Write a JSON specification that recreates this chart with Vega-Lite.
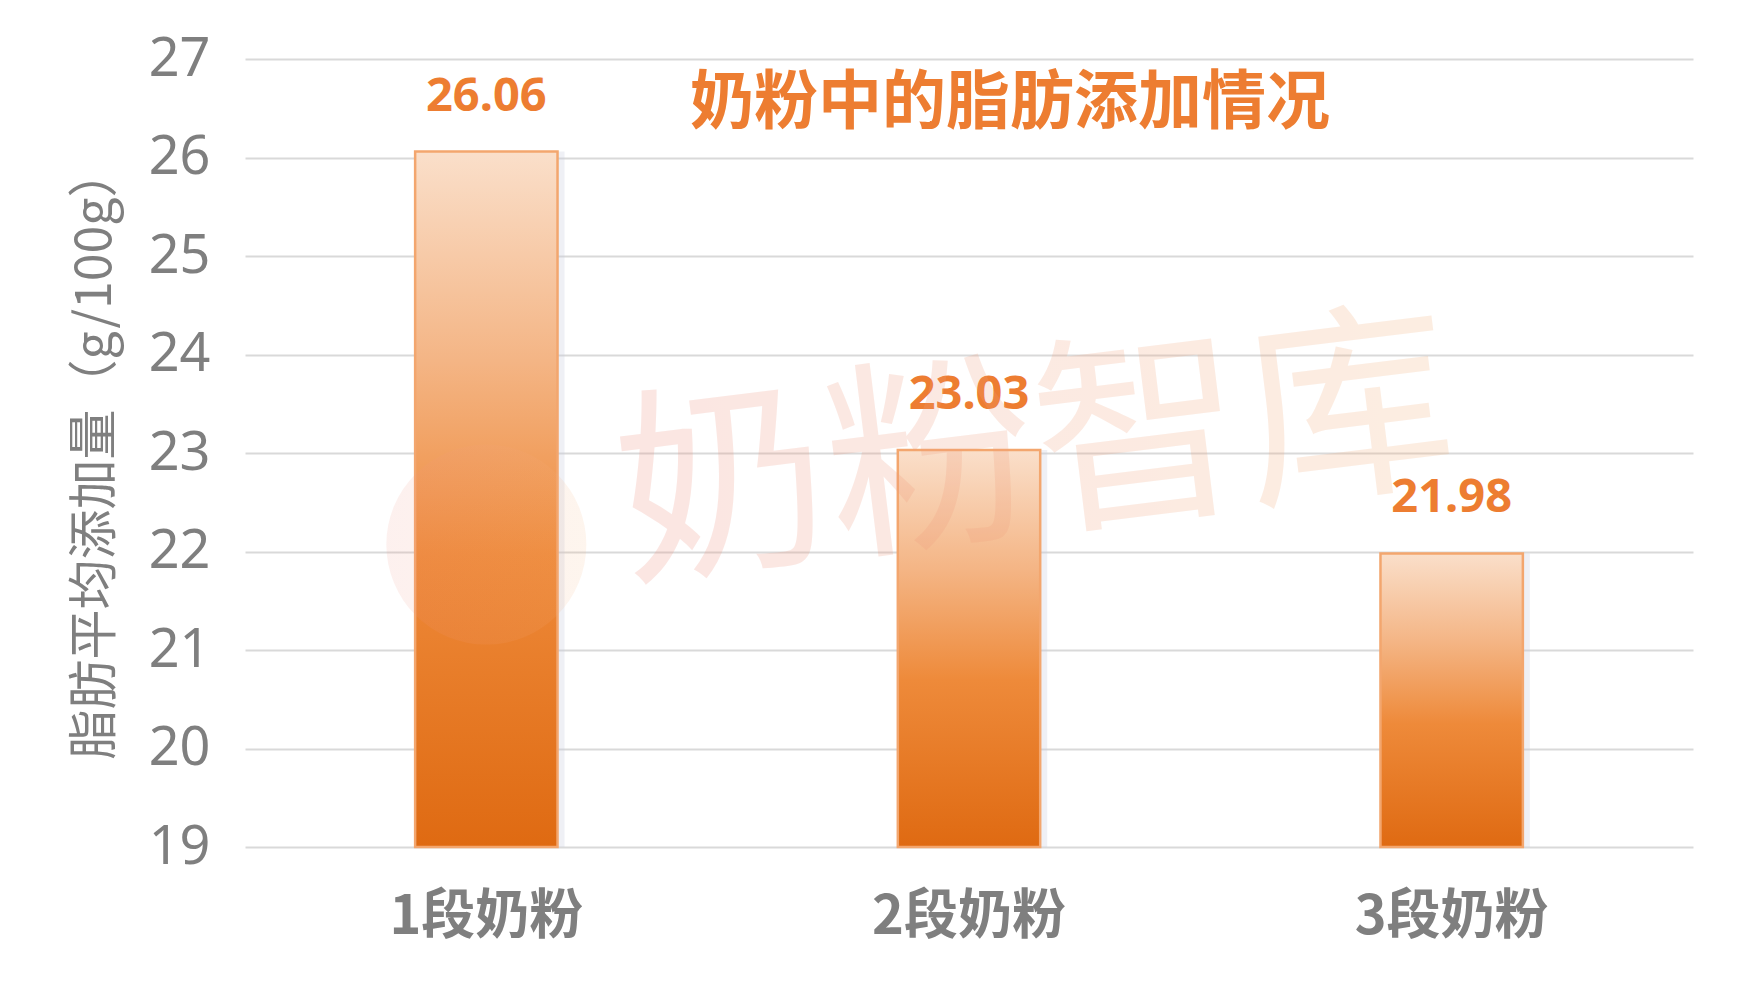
{
  "$schema": "https://vega.github.io/schema/vega-lite/v6.json",
  "width": 1448,
  "height": 788,
  "autosize": "none",
  "padding": {"left": 245, "top": 59, "right": 53, "bottom": 147},
  "background": "white",
  "title": {
    "text": "奶粉中的脂肪添加情况",
    "font": "Noto Sans CJK SC",
    "fontSize": 64,
    "fontWeight": "bold",
    "color": "#ED7D31",
    "anchor": "middle",
    "frame": "group",
    "baseline": "middle",
    "dx": 41,
    "offset": -136
  },
  "data": {
    "values": [
      {"stage": "1段奶粉", "fat": 26.06},
      {"stage": "2段奶粉", "fat": 23.03},
      {"stage": "3段奶粉", "fat": 21.98}
    ]
  },
  "layer": [
    {
      "mark": {"type": "bar", "width": {"band": 0.295}, "xOffset": 7, "color": "#C9CEDD", "opacity": 0.3},
      "encoding": {
        "x": {"field": "stage", "type": "nominal", "sort": null, "scale": {"paddingInner": 0, "paddingOuter": 0},
          "axis": {"title": null, "labelAngle": 0, "labelLimit": 0, "domain": false, "ticks": false, "labelFont": "Noto Sans CJK SC", "labelFontWeight": "bold", "labelFontSize": 54, "labelColor": "#7F7F7F", "labelPadding": 43}},
        "y": {"field": "fat", "type": "quantitative", "scale": {"domain": [19, 27], "zero": false, "nice": false},
          "axis": {"values": [19, 20, 21, 22, 23, 24, 25, 26, 27], "format": "d", "grid": true, "gridColor": "#D9D9D9", "gridWidth": 2, "domain": false, "ticks": false,
            "labelFont": "Noto Sans", "labelFontSize": 54, "labelColor": "#7F7F7F", "labelPadding": 35,
            "title": "脂肪平均添加量（g/100g）", "titleFont": "Noto Sans CJK SC", "titleFontWeight": "normal", "titleFontSize": 50, "titleColor": "#7F7F7F", "titlePadding": 28}},
        "y2": {"datum": 19}
      }
    },
    {
      "mark": {
        "type": "bar",
        "width": {"band": 0.295},
        "stroke": "#F3A66E",
        "strokeWidth": 2.5,
        "color": {
          "gradient": "linear", "x1": 0, "y1": 0, "x2": 0, "y2": 1,
          "stops": [
            {"offset": 0, "color": "#FADFCA"},
            {"offset": 0.3, "color": "#F4B585"},
            {"offset": 0.58, "color": "#EE8A3A"},
            {"offset": 1, "color": "#DF6A12"}
          ]
        }
      },
      "encoding": {
        "x": {"field": "stage", "type": "nominal", "sort": null},
        "y": {"field": "fat", "type": "quantitative"},
        "y2": {"datum": 19}
      }
    },
    {
      "mark": {"type": "text", "font": "Noto Sans", "fontWeight": "bold", "fontSize": 47, "color": "#ED7D31", "baseline": "middle", "dy": -55},
      "encoding": {
        "x": {"field": "stage", "type": "nominal", "sort": null},
        "y": {"field": "fat", "type": "quantitative"},
        "text": {"field": "fat", "type": "quantitative", "format": ".2f"}
      }
    },
    {
      "data": {"values": [{"stage": "1段奶粉", "fat": 22.07}]},
      "mark": {"type": "point", "shape": "circle", "filled": true, "size": 40000, "opacity": 0.13,
        "color": {
          "gradient": "linear", "x1": 0, "y1": 0, "x2": 1, "y2": 0,
          "stops": [{"offset": 0, "color": "#EE8F80"}, {"offset": 1, "color": "#F5B27A"}]
        }},
      "encoding": {
        "x": {"field": "stage", "type": "nominal", "sort": null},
        "y": {"field": "fat", "type": "quantitative"}
      }
    },
    {
      "data": {"values": [{"stage": "2段奶粉", "fat": 23, "mark": "奶粉智库"}]},
      "mark": {"type": "text", "font": "Noto Sans CJK SC", "fontWeight": "normal", "fontSize": 210, "angle": -7, "dx": 66, "dy": 12, "baseline": "middle", "opacity": 0.22,
        "color": {
          "gradient": "linear", "x1": 0, "y1": 0, "x2": 1, "y2": 0,
          "stops": [{"offset": 0, "color": "#EE8F80"}, {"offset": 1, "color": "#F5B27A"}]
        }},
      "encoding": {
        "x": {"field": "stage", "type": "nominal", "sort": null},
        "y": {"field": "fat", "type": "quantitative"},
        "text": {"field": "mark"}
      }
    }
  ],
  "config": {"view": {"stroke": null}}
}
